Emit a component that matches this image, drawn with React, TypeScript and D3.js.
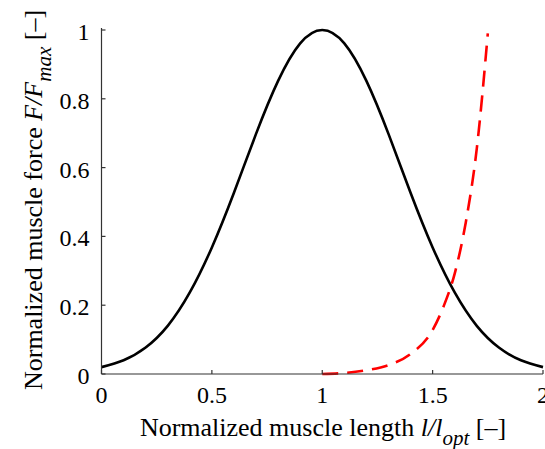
import React from "react";
import * as d3 from "d3";

const width = 545;
const height = 449;
const space = { left: 101.5, right: 2, top: 30, bottom: 75 };

// black curve: active force-length relation
const forceX = [0, 0.1, 0.2, 0.3, 0.4, 0.5, 0.6, 0.7, 0.8, 0.9, 1.0, 1.1, 1.2, 1.3, 1.4, 1.5, 1.6, 1.7, 1.8, 1.9, 2.0];
const forceY = [0.02, 0.04, 0.077, 0.14, 0.237, 0.368, 0.527, 0.698, 0.852, 0.961, 1.0, 0.961, 0.852, 0.698, 0.527, 0.368, 0.237, 0.14, 0.077, 0.04, 0.02];

// red dashed curve: passive force
const passiveX = [1.0, 1.1, 1.2, 1.3, 1.4, 1.5, 1.55, 1.6, 1.65, 1.7, 1.75];
const passiveY = [0, 0.003, 0.011, 0.026, 0.058, 0.128, 0.197, 0.292, 0.44, 0.655, 0.99];

const xTicks = [0, 0.5, 1, 1.5, 2];
const yTicks = [0, 0.2, 0.4, 0.6, 0.8, 1];

const font = "Liberation Serif, Times New Roman, DejaVu Serif, serif";

const App = () => {
  const x = d3.scaleLinear().domain([0, 2]).range([space.left, width - space.right]);
  const y = d3.scaleLinear().domain([0, 1]).range([height - space.bottom, space.top]);

  const force = forceX.map((d, i) => [d, forceY[i]] as [number, number]);
  const passive = passiveX.map((d, i) => [d, passiveY[i]] as [number, number]);

  const line = d3
    .line<[number, number]>()
    .x((d) => x(d[0]))
    .y((d) => y(d[1]));

  const y0 = y(0);

  return (
    <svg
      width={width}
      height={height}
      style={{ position: "absolute", left: 0, top: 0, background: "#fff", fontFamily: font }}
    >
      <path d={line.curve(d3.curveNatural)(force) || ""} fill="none" stroke="#000" strokeWidth={2.6} />
      <path
        d={line.curve(d3.curveMonotoneX)(passive) || ""}
        fill="none"
        stroke="#ff0000"
        strokeWidth={2.6}
        strokeDasharray="16 9"
      />

      {/* axes */}
      <g stroke="#333" strokeWidth={1.2} fill="none">
        <line x1={x(0)} x2={x(0)} y1={y(1) - 2} y2={y0} />
        <line x1={x(0)} x2={x(2)} y1={y0} y2={y0} />
        {xTicks.map((t) => (
          <line key={"xt" + t} x1={x(t)} x2={x(t)} y1={y0} y2={y0 - 4} />
        ))}
        {yTicks.map((t) => (
          <line key={"yt" + t} x1={x(0)} x2={x(0) + 4} y1={y(t)} y2={y(t)} />
        ))}
      </g>

      <g fontSize={24} fill="#000" style={{ fontFamily: font }}>
        {xTicks.map((t) => (
          <text key={"xl" + t} x={x(t)} y={y0 + 29} textAnchor="middle">
            {String(t)}
          </text>
        ))}
        {yTicks.map((t) => (
          <text key={"yl" + t} x={x(0) - 12} y={y(t) + 10} textAnchor="end">
            {String(t)}
          </text>
        ))}
      </g>

      <text x={323} y={436} textAnchor="middle" fontSize={26} style={{ fontFamily: font }}>
        Normalized muscle length{" "}
        <tspan fontStyle="italic">l/l</tspan>
        <tspan fontStyle="italic" fontSize={21} dy={9}>opt</tspan>
        <tspan dy={-9}> [–]</tspan>
      </text>

      <text transform="translate(42,200) rotate(-90)" textAnchor="middle" fontSize={26} style={{ fontFamily: font }}>
        Normalized muscle force{" "}
        <tspan fontStyle="italic">F/F</tspan>
        <tspan fontStyle="italic" fontSize={21} dy={9}>max</tspan>
        <tspan dy={-9}> [–]</tspan>
      </text>
    </svg>
  );
};

export default App;
